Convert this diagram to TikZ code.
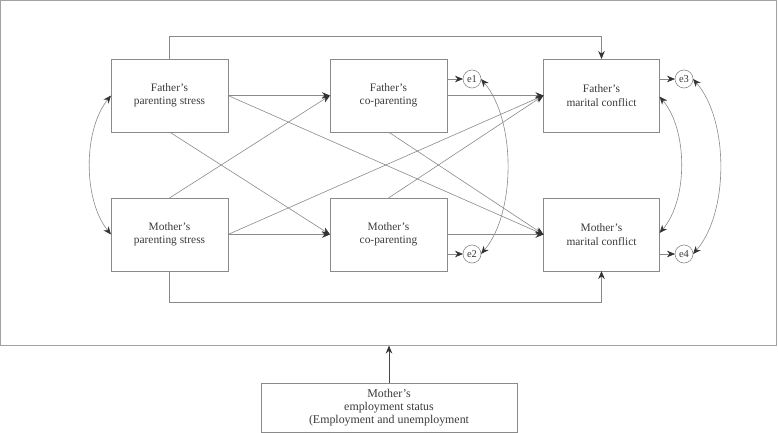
\documentclass[tikz,border=0pt]{standalone}
\usepackage{fontspec}
\setmainfont{Liberation Serif}
\usetikzlibrary{arrows.meta,calc}
\definecolor{linec}{HTML}{8A8A8A}
\definecolor{tipc}{HTML}{333333}
\definecolor{textc}{HTML}{3A3A3A}
\begin{document}
\begin{tikzpicture}[x=1pt,y=-1pt,
  box/.style={draw=linec, line width=0.8pt, minimum width=117pt, minimum height=73pt, inner sep=2pt, outer sep=0pt, align=center, text=textc, font=\fontsize{11.4}{13.4}\selectfont},
  err/.style={draw=linec, line width=0.6pt, circle, minimum size=18pt, inner sep=0pt, outer sep=0pt, text=textc, font=\fontsize{10.5}{12}\selectfont},
  arr/.style={draw=linec, line width=0.6pt, -{Stealth[length=8pt,width=6.5pt,color=tipc]}},
  dbl/.style={draw=linec, line width=0.6pt, {Stealth[length=8pt,width=6.5pt,color=tipc]}-{Stealth[length=8pt,width=6.5pt,color=tipc]}},
  frame/.style={draw=linec!80, line width=0.8pt, inner sep=0pt, outer sep=0pt}]
\useasboundingbox (0,0) rectangle (778,433);
\node[frame, minimum width=776pt, minimum height=345pt] (frame) at (388.5,173) {};
\node[box] (fps) at (169.5,95.5) {Father’s\\parenting stress};
\node[box] (mps) at (169.5,234.5) {Mother’s\\parenting stress};
\node[box] (fcp) at (388.5,95.5) {Father’s\\co-parenting};
\node[box] (mcp) at (388.5,234.5) {Mother’s\\co-parenting};
\node[box, minimum width=116pt] (fmc) at (601.5,95.5) {Father’s\\marital conflict};
\node[box, minimum width=116pt] (mmc) at (601.5,234.5) {Mother’s\\marital conflict};
\node[err] (e1) at (472,79) {e1};
\node[err] (e2) at (472,254) {e2};
\node[err] (e3) at (684,79) {e3};
\node[err] (e4) at (684,254) {e4};
\node[box, minimum width=256pt, minimum height=49pt, font=\fontsize{11.9}{12.7}\selectfont] (emp) at (389,407.5) {Mother’s\\employment status\\(Employment and unemployment};
% paths
\draw[arr] (fps.north) -- ++(0,-22.5) -| (fmc.north);
\draw[arr] (mps.south) -- ++(0,31.5) -| (mmc.south);
\draw[arr] (fps.east) -- (fcp.west);
\draw[arr] (fps.south) -- (mcp.west);
\draw[arr] (fps.east) -- (mmc.west);
\draw[arr] (mps.north) -- (fcp.west);
\draw[arr] (mps.east) -- (mcp.west);
\draw[arr] (mps.east) -- (fmc.west);
\draw[arr] (fcp.east) -- (fmc.west);
\draw[arr] (fcp.south) -- (mmc.west);
\draw[arr] (mcp.north) -- (fmc.west);
\draw[arr] (mcp.east) -- (mmc.west);
\draw[arr] (fcp.east |- e1) -- (e1.west);
\draw[arr] (mcp.east |- e2) -- (e2.west);
\draw[arr] (fmc.east |- e3) -- (e3.west);
\draw[arr] (mmc.east |- e4) -- (e4.west);
% correlations
\draw[dbl] (fps.west) .. controls (83,130) and (83,200) .. (mps.west);
\draw[dbl] (e1.east) .. controls (516,120) and (516,213) .. (e2.east);
\draw[dbl] ($(fmc.east)+(0,1)$) .. controls (688,130) and (688,200) .. ($(mmc.east)+(0,-1.5)$);
\draw[dbl] (e3.east) .. controls (729,120) and (729,213) .. (e4.east);
% employment
\draw[draw=tipc!90, line width=1pt, -{Stealth[length=8pt,width=6.5pt,color=tipc]}] (emp.north) -- (emp.north |- frame.south);
\end{tikzpicture}
\end{document}
